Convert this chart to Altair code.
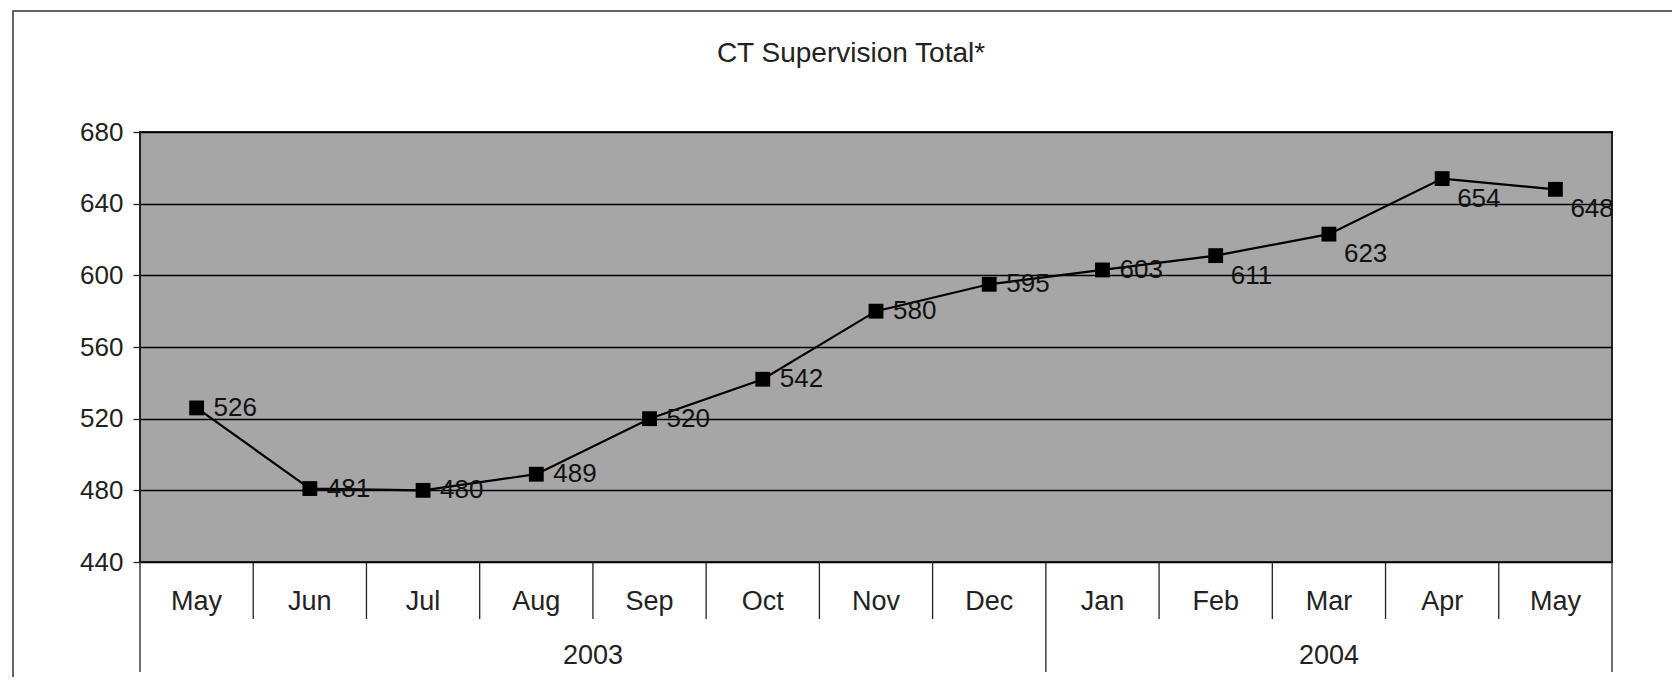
import altair as alt
import pandas as pd

# ---- data ----
months = ["May", "Jun", "Jul", "Aug", "Sep", "Oct", "Nov", "Dec",
          "Jan", "Feb", "Mar", "Apr", "May"]
values = [526, 481, 480, 489, 520, 542, 580, 595, 603, 611, 623, 654, 648]
year_labels = ["2003", "2004"]
year_counts = [8, 5]
y_ticks = [440, 480, 520, 560, 600, 640, 680]
title_text = "CT Supervision Total*"

FONT = "Liberation Sans"
W, H = 1472, 430

df = pd.DataFrame({
    "idx": list(range(len(months))),
    "month": months,
    "value": values,
})
df["pos"] = df["idx"] + 0.5

# year spans
yb = [0]
for c in year_counts:
    yb.append(yb[-1] + c)
years_df = pd.DataFrame({
    "year": year_labels,
    "center": [(yb[i] + yb[i + 1]) / 2 for i in range(len(year_labels))],
})
year_bounds = pd.DataFrame({"b": yb})
month_bounds = pd.DataFrame({"b": [b for b in range(1, len(months)) if b not in yb]})

xscale = alt.Scale(domain=[0, len(months)], nice=False, zero=False)
yscale = alt.Scale(domain=[440, 680], nice=False, zero=False)

base = alt.Chart(df)
one = alt.Data(values=[{"t": title_text}])

frame = alt.Chart(one).mark_rect(
    fillOpacity=0, stroke="#333", strokeWidth=1.5, clip=False
).encode(
    x=alt.value(-127), x2=alt.value(1700),
    y=alt.value(-121), y2=alt.value(800),
)

title = alt.Chart(one).mark_text(
    align="center", baseline="middle", font=FONT, fontSize=28,
    color="#222"
).encode(
    x=alt.value(W / 2 - 25), y=alt.value(-78), text="t:N",
)

line = base.mark_line(color="black", strokeWidth=2.2).encode(
    x=alt.X("pos:Q", scale=xscale, axis=None),
    y=alt.Y("value:Q", scale=yscale, title=None,
            axis=alt.Axis(values=y_ticks, grid=True, gridColor="black",
                          gridWidth=1.3, gridOpacity=1, domain=False,
                          ticks=True, tickSize=7, tickColor="#222",
                          tickWidth=1.3, labelFont=FONT, labelFontSize=26,
                          labelColor="#222", labelPadding=10)),
)

points = base.mark_point(shape="square", filled=True, color="black",
                         size=220, opacity=1).encode(
    x=alt.X("pos:Q", scale=xscale, axis=None),
    y=alt.Y("value:Q", scale=yscale),
)

labels_a = base.transform_filter("datum.idx < 9").mark_text(
    align="left", baseline="middle", dx=17, font=FONT, fontSize=26,
    color="#111"
).encode(
    x=alt.X("pos:Q", scale=xscale, axis=None),
    y=alt.Y("value:Q", scale=yscale),
    text="value:Q",
)

labels_b = base.transform_filter("datum.idx >= 9").mark_text(
    align="left", baseline="middle", dx=15, dy=20, font=FONT, fontSize=26,
    color="#111", clip=True
).encode(
    x=alt.X("pos:Q", scale=xscale, axis=None),
    y=alt.Y("value:Q", scale=yscale),
    text="value:Q",
)

month_text = base.mark_text(
    align="center", baseline="middle", font=FONT, fontSize=27, color="#222"
).encode(
    x=alt.X("pos:Q", scale=xscale, axis=None),
    y=alt.value(H + 40),
    text="month:N",
)

month_rules = alt.Chart(month_bounds).mark_rule(
    color="#222", strokeWidth=1.3, clip=False
).encode(
    x=alt.X("b:Q", scale=xscale, axis=None),
    y=alt.value(H), y2=alt.value(H + 57),
)

year_rules = alt.Chart(year_bounds).mark_rule(
    color="#222", strokeWidth=1.3, clip=False
).encode(
    x=alt.X("b:Q", scale=xscale, axis=None),
    y=alt.value(H), y2=alt.value(H + 110),
)

year_text = alt.Chart(years_df).mark_text(
    align="center", baseline="middle", font=FONT, fontSize=27, color="#222"
).encode(
    x=alt.X("center:Q", scale=xscale, axis=None),
    y=alt.value(H + 94),
    text="year:N",
)

chart = alt.layer(
    frame, title, line, points, labels_a, labels_b,
    month_text, month_rules, year_rules, year_text
).properties(
    width=W, height=H,
    autosize=alt.AutoSizeParams(type="none"),
    padding={"left": 132, "top": 124, "right": 60, "bottom": 115},
).configure(
    background="white",
    view=alt.ViewConfig(fill="#a6a6a6", stroke="#222", strokeWidth=2),
)

chart.save("out.html", embed_options={"renderer": "svg", "actions": False})
